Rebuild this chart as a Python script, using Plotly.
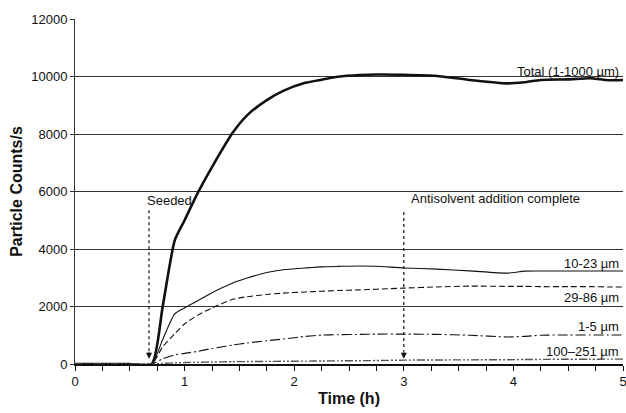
import plotly.graph_objects as go

# ---- data ----
time_h = [0, 0.5, 0.70, 0.80, 0.91, 1.0, 1.12, 1.25, 1.44, 1.57, 1.75, 1.9, 2.1, 2.25,
          2.4, 2.6, 2.75, 3.0, 3.3, 3.6, 3.95, 4.1, 4.25, 4.5, 4.7, 4.87, 5.0]

total_1_1000 = [0, 0, 0, 2000, 4300, 5000, 5950, 6850, 8050, 8650, 9180, 9500, 9780, 9890,
                9990, 10050, 10070, 10060, 10020, 9880, 9760, 9800, 9880, 9900, 9940, 9870, 9880]
size_10_23 = [0, 0, 0, 850, 1740, 1950, 2200, 2480, 2820, 2990, 3180, 3280, 3340, 3380,
              3395, 3410, 3400, 3340, 3300, 3240, 3160, 3230, 3235, 3235, 3235, 3235, 3235]
size_29_86 = [0, 0, 0, 600, 1050, 1400, 1700, 1950, 2250, 2340, 2420, 2465, 2505, 2530,
              2555, 2580, 2600, 2640, 2680, 2710, 2700, 2700, 2690, 2690, 2690, 2680, 2680]
size_1_5 = [0, 0, 0, 180, 320, 370, 440, 540, 660, 730, 810, 870, 960, 1005,
            1020, 1030, 1040, 1040, 1030, 1000, 940, 960, 1000, 1010, 1010, 1010, 1010]
size_100_251 = [0, 0, 0, 20, 40, 50, 60, 70, 80, 85, 90, 95, 100, 105,
                110, 115, 120, 135, 140, 145, 150, 155, 160, 165, 165, 170, 170]

series_names = ["Total (1-1000 µm)", "10-23 µm", "29-86 µm", "1-5 µm", "100–251 µm"]
series_values = [total_1_1000, size_10_23, size_29_86, size_1_5, size_100_251]
series_label_y = [10190, 3480, 2300, 1320, 450]

x_ticks = [0, 1, 2, 3, 4, 5]
y_ticks = [0, 2000, 4000, 6000, 8000, 10000, 12000]
y_tick_text = ["0", "2000", "4000", "6000", "8000", "10000", "12000"]

# event annotations: (label, arrow x, text x, text y, arrow top, arrow tip)
events = [
    ("Seeded", 0.675, 0.64, 5700, 5350, 180),
    ("Antisolvent addition complete", 3.0, 3.05, 5740, 5290, 180),
]

# ---- styles ----
styles = [
    dict(color="#111", width=2.6, dash="solid"),
    dict(color="#111", width=1.1, dash="solid"),
    dict(color="#111", width=1.1, dash="6px,3px"),
    dict(color="#111", width=1.1, dash="10px,3px,2px,3px"),
    dict(color="#555", width=1.4, dash="8px,2px,2px,2px,2px,2px"),
]

FONT = "Liberation Sans, Arial, sans-serif"

fig = go.Figure()
for name, vals, st in zip(series_names, series_values, styles):
    fig.add_trace(go.Scatter(x=time_h, y=vals, mode="lines", name=name,
                             line=dict(shape="spline", smoothing=0.6, **st),
                             showlegend=False, hoverinfo="skip"))

annotations = []
for name, ly in zip(series_names, series_label_y):
    annotations.append(dict(x=4.985, y=ly, xref="x", yref="y", text=name,
                            showarrow=False, xanchor="right", yanchor="middle",
                            font=dict(family=FONT, size=13, color="#111")))

shapes = []
for label, ax_x, tx, ty, top, tip in events:
    annotations.append(dict(x=tx, y=ty, xref="x", yref="y", text=label,
                            showarrow=False, xanchor="left", yanchor="middle",
                            font=dict(family=FONT, size=13, color="#111")))
    shapes.append(dict(type="line", xref="x", yref="y", x0=ax_x, x1=ax_x,
                       y0=top, y1=tip + 250, line=dict(color="#111", width=1.2, dash="dot")))
    annotations.append(dict(x=ax_x, y=tip, xref="x", yref="y", text="",
                            showarrow=True, arrowhead=2, arrowsize=1, arrowwidth=1.2,
                            arrowcolor="#111", ax=0, ay=-8, axref="pixel", ayref="pixel"))

fig.update_layout(
    width=626, height=413,
    margin=dict(l=75, r=3, t=19, b=49),
    paper_bgcolor="white", plot_bgcolor="white",
    font=dict(family=FONT, size=13, color="#111"),
    annotations=annotations, shapes=shapes,
    xaxis=dict(range=[0, 5], tickvals=x_ticks, showgrid=False, zeroline=False,
               showline=True, linecolor="#111", linewidth=1.5, automargin=False,
               ticks="outside", ticklen=5, tickcolor="#111", tickwidth=1,
               ticklabeloverflow="allow",
               minor=dict(dtick=0.25, tick0=0, ticks="outside", ticklen=5,
                          tickcolor="#111", tickwidth=1, showgrid=False),
               tickfont=dict(family=FONT, size=13, color="#111"),
               title=dict(text="<b>Time (h)</b>", standoff=4,
                          font=dict(family=FONT, size=16, color="#111"))),
    yaxis=dict(range=[0, 12000], tickvals=y_ticks, ticktext=y_tick_text,
               showgrid=True, gridcolor="#333", automargin=False,
               gridwidth=1, zeroline=False, showline=True, linecolor="#333", linewidth=1,
               ticks="outside", ticklen=4, tickcolor="#333",
               tickfont=dict(family=FONT, size=13, color="#111"),
               title=dict(text="<b>Particle Counts/s</b>", standoff=4,
                          font=dict(family=FONT, size=16, color="#111"))),
)

fig.write_html("out.html")
